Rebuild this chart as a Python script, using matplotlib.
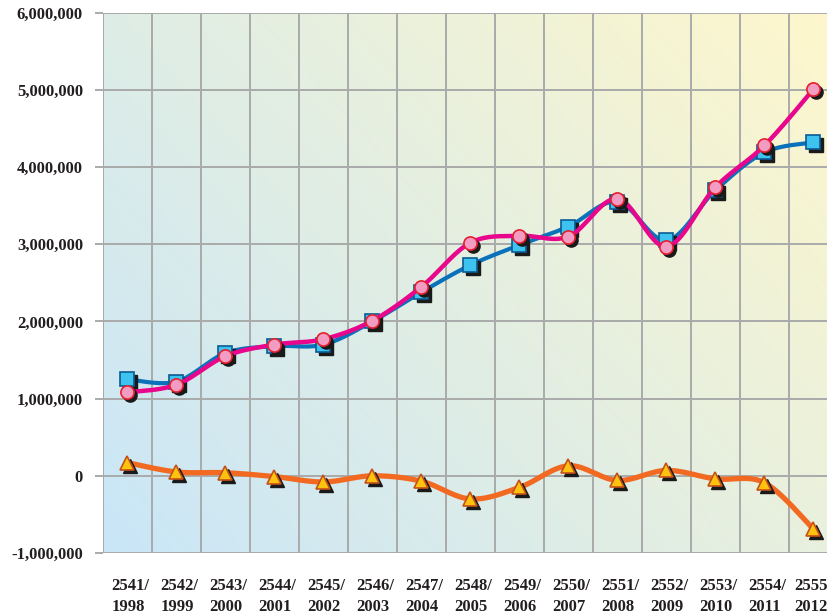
import numpy as np
import matplotlib
matplotlib.use("Agg")
import matplotlib.pyplot as plt
import matplotlib.transforms as mtransforms
from matplotlib.ticker import FuncFormatter

# ---- data ----
categories = ["2541/\n1998", "2542/\n1999", "2543/\n2000", "2544/\n2001", "2545/\n2002",
              "2546/\n2003", "2547/\n2004", "2548/\n2005", "2549/\n2006", "2550/\n2007",
              "2551/\n2008", "2552/\n2009", "2553/\n2010", "2554/\n2011", "2555\n2012"]
blue_vals = [1250000, 1220000, 1590000, 1680000, 1700000, 2000000, 2380000, 2730000,
             2990000, 3230000, 3550000, 3050000, 3700000, 4190000, 4320000]
pink_vals = [1080000, 1180000, 1550000, 1700000, 1770000, 2010000, 2450000, 3020000,
             3110000, 3100000, 3590000, 2970000, 3740000, 4280000, 5010000]
orange_vals = [170000, 50000, 40000, -10000, -80000, 0, -70000, -300000,
               -150000, 130000, -60000, 70000, -40000, -90000, -690000]
yticks = [-1000000, 0, 1000000, 2000000, 3000000, 4000000, 5000000, 6000000]


def smooth(x, y, n=20):
    x = np.asarray(x, float)
    y = np.asarray(y, float)
    px = np.concatenate([[x[0]], x, [x[-1]]])
    py = np.concatenate([[y[0]], y, [y[-1]]])
    xs, ys = [], []
    for i in range(1, len(px) - 2):
        p0, p1, p2, p3 = (np.array([px[j], py[j]]) for j in (i - 1, i, i + 1, i + 2))
        c1 = p1 + (p2 - p0) / 6.0
        c2 = p2 - (p3 - p1) / 6.0
        t = np.linspace(0, 1, n)[:, None]
        pts = ((1 - t) ** 3) * p1 + 3 * ((1 - t) ** 2) * t * c1 + 3 * (1 - t) * t ** 2 * c2 + t ** 3 * p2
        xs.append(pts[:, 0])
        ys.append(pts[:, 1])
    return np.concatenate(xs), np.concatenate(ys)


fig = plt.figure(figsize=(8.28, 6.15), dpi=100)
ax = fig.add_axes([103 / 828, 62 / 615, 1 - 103 / 828, (553 - 12.7) / 615])

xs = np.arange(len(categories))
ax.set_xlim(-0.5, 14.5 - 10 / 49)
ax.set_ylim(-1000000, 6000000)

# gradient background
gx, gy = np.meshgrid(np.linspace(0, 1, 200), np.linspace(0, 1, 200))
t = np.clip((gx * 0.6 + gy * 0.4), 0, 1)
c0 = np.array([201, 230, 248]) / 255.0
c1 = np.array([254, 247, 204]) / 255.0
img = c0[None, None, :] * (1 - t[..., None]) + c1[None, None, :] * t[..., None]
ax.imshow(img, extent=[0, 1, 0, 1], transform=ax.transAxes, origin="lower",
          aspect="auto", zorder=0)

grid_c = "#A9ABAA"
for b in np.arange(-0.5, 14.6, 1.0):
    ax.axvline(b, color=grid_c, lw=1.4, zorder=1)
for yv in yticks:
    ax.axhline(yv, color=grid_c, lw=1.4, zorder=1)

for s in ax.spines.values():
    s.set_visible(False)

ax.set_yticks(yticks)
ax.yaxis.set_major_formatter(FuncFormatter(lambda v, p: f"{int(v):,}"))
ax.tick_params(axis="y", length=5.8, width=1.4, color=grid_c, pad=8.6)
for lab in ax.get_yticklabels():
    lab.set_fontfamily("Liberation Serif")
    lab.set_fontweight("bold")
    lab.set_fontsize(12)
    lab.set_color("#231F20")

# x category labels (two lines, left-aligned block)
ax.set_xticks(xs)
ax.set_xticklabels([])
ax.tick_params(axis="x", length=0)
xform = mtransforms.blended_transform_factory(ax.transData, ax.transAxes)
for i, lab in enumerate(categories):
    dx = 2.2 if i < len(categories) - 1 else -2.0
    ax.annotate(lab, xy=(xs[i], 0), xycoords=xform, xytext=(dx, -18),
                textcoords="offset points", ha="center", va="top",
                multialignment="left", linespacing=1.4,
                fontfamily="Liberation Serif", fontweight="bold", fontsize=12,
                color="#231F20", annotation_clip=False)

shadow = mtransforms.offset_copy(ax.transData, fig=fig, x=2.5, y=-3, units="dots")

series = [
    (orange_vals, "#F26A21", 3.8, "^", 10, "#FFC20E", "#C4511A"),
    (blue_vals, "#0A72BA", 3.0, "s", 9.5, "#3EC3F0", "#0B5C93"),
    (pink_vals, "#E8078C", 3.2, "o", 9.5, "#F39CC3", "#E5202E"),
]
z = 3
for vals, lc, lw, mk, ms, fc, ec in series:
    sx, sy = smooth(xs, vals)
    ax.plot(sx, sy, color=lc, lw=lw, solid_capstyle="round", zorder=z)
    ax.plot(xs, vals, ls="none", marker=mk, ms=ms, mfc="#1A1A1A", mec="#1A1A1A",
            mew=1.0, transform=shadow, zorder=z + 0.5)
    ax.plot(xs, vals, ls="none", marker=mk, ms=ms, mfc=fc, mec=ec, mew=1.2,
            zorder=z + 1)
    z += 2

fig.savefig("out.png", dpi=100)
